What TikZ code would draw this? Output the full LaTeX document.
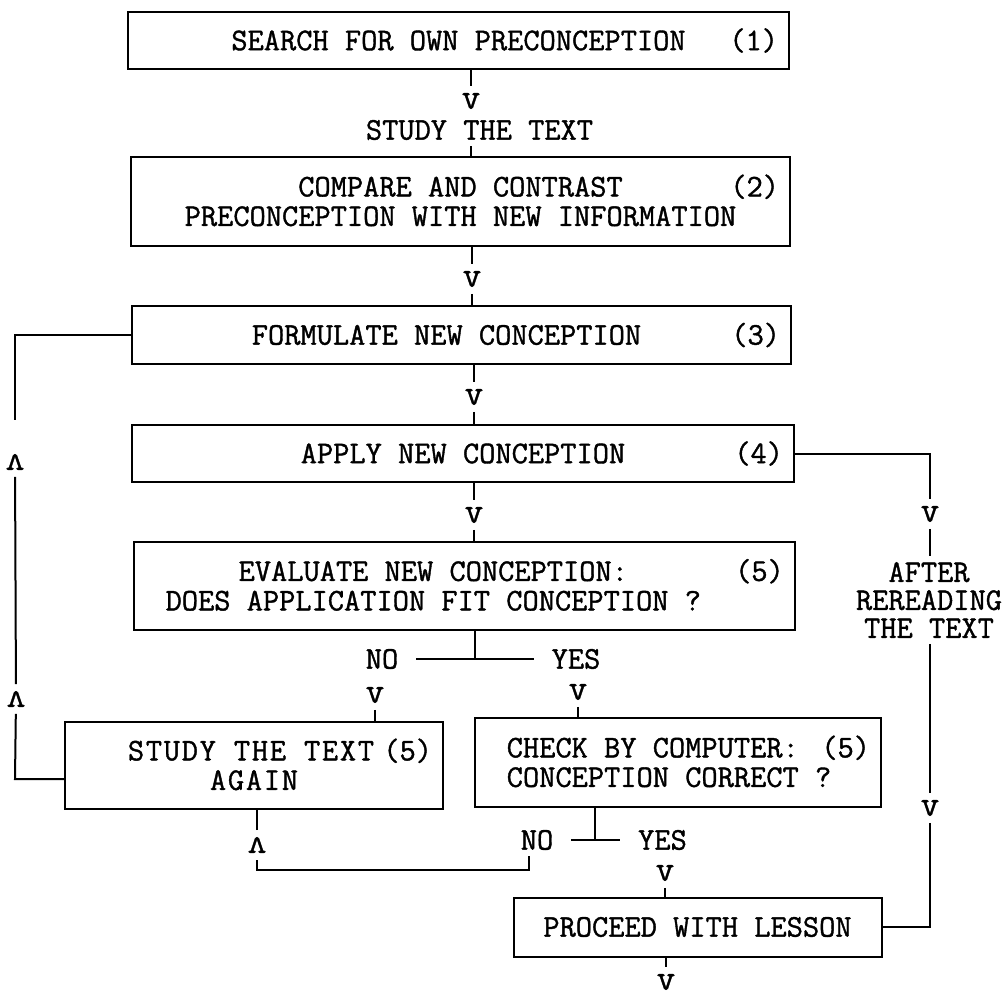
\documentclass[tikz,border=0pt]{standalone}
\usepackage{fontspec}
\setmonofont{Latin Modern Mono}[FakeBold=1.2]
\newfontfamily\widett{Latin Modern Mono}[FakeBold=1.2, LetterSpace=5.5]
\usepackage{tikz}

\begin{document}
\begin{tikzpicture}[x=1pt, y=-1pt, line width=2pt,
  every node/.style = {font=\ttfamily\fontsize{31.5}{29.5}\selectfont},
  stepbox/.style = {shape=rectangle, draw, inner sep=0pt, align=center},
  stepno/.style = {anchor=east, inner sep=0pt},
  arrowdown/.style = {inner sep=6pt, font=\ttfamily\fontsize{36}{36}\selectfont},
  arrowup/.style = {arrowdown, rotate=180},
  answer/.style = {inner xsep=17pt, inner ysep=2pt},
  note/.style = {inner sep=5pt, align=center}]
  \useasboundingbox (0,0) rectangle (1007,997);

  % the steps
  \node[stepbox, minimum width=661pt, minimum height=57pt] (search) at (458.5,40.5)
    {SEARCH FOR OWN PRECONCEPTION};
  \node[stepbox, minimum width=659pt, minimum height=89pt] (compare) at (460.5,201.5)
    {COMPARE AND CONTRAST\\PRECONCEPTION WITH NEW INFORMATION};
  \node[stepbox, minimum width=659pt, minimum height=58pt] (formulate) at (461.5,335)
    {FORMULATE NEW CONCEPTION\hspace*{30pt}};
  \node[stepbox, minimum width=662pt, minimum height=57pt] (apply) at (463,453.5)
    {APPLY NEW CONCEPTION};
  \node[stepbox, minimum width=661pt, minimum height=88pt] (evaluate) at (464.3,586)
    {EVALUATE NEW CONCEPTION:\hspace*{62pt}\\DOES APPLICATION FIT CONCEPTION ?\hspace*{62pt}};
  \node[stepbox, minimum width=378pt, minimum height=87pt,
    font=\widett\fontsize{31.5}{29.5}\selectfont] (again) at (254,765.5)
    {STUDY THE TEXT\hspace*{6pt}\\AGAIN};
  \node[stepbox, minimum width=406pt, minimum height=89pt, align=left] (check) at (678,762.5)
    {CHECK BY COMPUTER:\\CONCEPTION CORRECT ?\hspace*{18pt}};
  \node[stepbox, minimum width=368pt, minimum height=59pt] (proceed) at (697.5,927)
    {PROCEED WITH LESSON};

  \node[stepno] (search-no) at ([xshift=-11pt]search.east) {(1)};
  \node[stepno] (compare-no) at ([xshift=-11pt, yshift=14.75pt]compare.east) {(2)};
  \node[stepno] (formulate-no) at ([xshift=-11pt]formulate.east) {(3)};
  \node[stepno] (apply-no) at ([xshift=-11pt]apply.east) {(4)};
  \node[stepno] (evaluate-no) at ([xshift=-11pt, yshift=14.75pt]evaluate.east) {(5)};
  \node[stepno] (again-no) at ([xshift=-11pt, yshift=14.75pt]again.east) {(5)};
  \node[stepno] (check-no) at ([xshift=-11pt, yshift=14.75pt]check.east) {(5)};

  % texts on the way
  \node[note] (study) at (479.5,130) {STUDY THE TEXT};
  \node[note, font=\ttfamily\fontsize{31.5}{28}\selectfont] (reread) at (929,600)
    {AFTER\\REREADING\\THE TEXT};
  \node[answer] (no5) at (382,659) {NO};
  \node[answer] (yes5) at (576,659) {YES};
  \node[answer] (no7) at (537,840) {NO};
  \node[answer] (yes7) at (662.5,840) {YES};

  % arrow heads
  \node[arrowdown] (v1) at (471,101) {v};
  \node[arrowdown] (v2) at (472,279) {v};
  \node[arrowdown] (v3) at (474,397) {v};
  \node[arrowdown] (v4) at (474,515) {v};
  \node[arrowdown] (vr1) at (930,514) {v};
  \node[arrowdown] (vr2) at (930,808) {v};
  \node[arrowdown] (vno) at (375,695) {v};
  \node[arrowdown] (vyes) at (578,692) {v};
  \node[arrowdown] (vyes2) at (665,873) {v};
  \node[arrowdown] (vend) at (666,982) {v};
  \node[arrowup] (ul1) at (15,462) {v};
  \node[arrowup] (ul2) at (16,699) {v};
  \node[arrowup] (ub) at (257,845) {v};

  \coordinate (tee5) at (475,659);
  \coordinate (tee7) at (595,840);
  \coordinate (nodrop) at (529,856);
  \coordinate (lpno) at (529,870);
  \coordinate (lt1) at (15,420);
  \coordinate (cl) at (15,779);

  % main line
  \draw (search.south -| v1) -- (v1);
  \draw (study.south -| v1) -- (compare.north -| v1);
  \draw (compare.south -| v2) -- (v2) -- (formulate.north -| v2);
  \draw (formulate.south -| v3) -- (v3) -- (apply.north -| v3);
  \draw (apply.south -| v4) -- (v4) -- (evaluate.north -| v4);
  \draw (evaluate.south -| tee5) -- (tee5);
  \draw (no5) -- (yes5);
  \draw (vno) -- (again.north -| vno);
  \draw (vyes) -- (check.north -| vyes);
  \draw (check.south -| tee7) -- (tee7);
  \draw (no7) -- (yes7);
  \draw (vyes2) -- (proceed.north -| vyes2);
  \draw (proceed.south -| vend) -- (vend);

  % loops back
  \draw (nodrop) -- (lpno) -| (ub);
  \draw (ub) -- (again.south -| ub);
  \draw (again.west |- cl) -- (cl) -- (ul2);
  \draw (ul2) -- (ul1);
  \draw (formulate.west) -| (lt1);

  % rereading branch
  \draw (apply.east) -| (vr1);
  \draw (vr1) -- (reread.north -| vr1);
  \draw (reread.south -| vr1) -- (vr2);
  \draw (vr2) |- (proceed.east);
\end{tikzpicture}
\end{document}
